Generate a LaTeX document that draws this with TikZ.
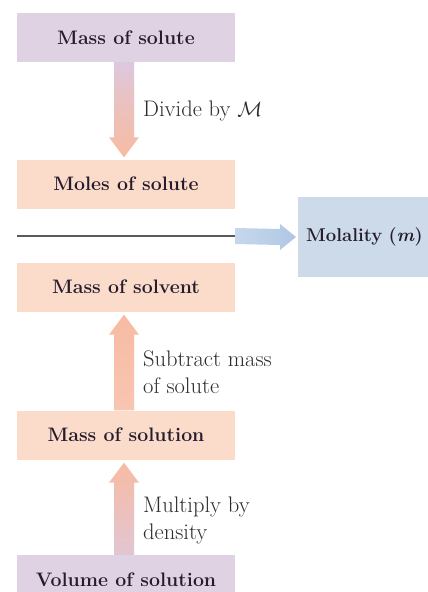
\documentclass[tikz,border=0pt]{standalone}
\usepackage{fontspec}
\usetikzlibrary{calc}
\definecolor{boxpurple}{HTML}{DFD2E3}
\definecolor{boxsalmon}{HTML}{FBDCCB}
\definecolor{boxblue}{HTML}{CCDAEA}
\definecolor{arrpurple}{HTML}{DCC8DE}
\definecolor{arrsalmon}{HTML}{F7BBA3}
\definecolor{arrblue}{HTML}{AFC7E4}
\definecolor{txt}{HTML}{251C2C}
\definecolor{labtxt}{HTML}{2E2A30}
\definecolor{rulegray}{HTML}{5A5A5A}
\begin{document}
\begin{tikzpicture}[x=1pt,y=-1pt,
  box/.style={minimum width=218pt, minimum height=49pt, inner sep=0pt, text=txt,
    font=\fontsize{19.5}{22}\selectfont\bfseries},
  bluebox/.style={anchor=west, fill=boxblue, minimum height=80pt, minimum width=140pt,
    inner xsep=8pt, inner ysep=0pt, text=txt, align=left, text width=124pt,
    font=\fontsize{18.5}{22}\selectfont\bfseries},
  lab/.style={anchor=north west, align=left, inner sep=0pt, text=labtxt,
    font=\fontsize{22.5}{26.5}\selectfont}]
\useasboundingbox (0,0) rectangle (428,592);
\clip (0,0) rectangle (428,592);
\fill[white] (0,0) rectangle (428,592);

% boxes
\node[box, fill=boxpurple] (msolute) at (126,37.5) {Mass of solute};
\node[box, fill=boxsalmon] (moles) at (126,184) {Moles of solute};
\node[box, fill=boxsalmon] (msolvent) at (126,287) {Mass of solvent};
\node[box, fill=boxsalmon] (msolution) at (126,435) {Mass of solution};
\node[box, fill=boxpurple, minimum height=50pt] (volume) at (126,580) {Volume of solution};
\node[bluebox] (molality) at (298,237) {Molality (\textit{m})};

% arrow 1: down
\shade[top color=arrpurple, bottom color=arrsalmon, middle color=arrsalmon!60!arrpurple]
  ($(msolute.south)+(-12,0)$) -- ($(msolute.south)+(8,0)$) -- ($(moles.north)+(8,-22)$)
  -- ($(moles.north)+(13,-22)$) -- ($(moles.north)+(-2,-2)$) -- ($(moles.north)+(-17,-22)$)
  -- ($(moles.north)+(-12,-22)$) -- cycle;

% arrow 2: up
\shade[top color=arrsalmon, bottom color=arrsalmon!85!white]
  ($(msolution.north)+(-12,0)$) -- ($(msolution.north)+(8,0)$) -- ($(msolvent.south)+(8,23)$)
  -- ($(msolvent.south)+(13,23)$) -- ($(msolvent.south)+(-2,3)$) -- ($(msolvent.south)+(-17,23)$)
  -- ($(msolvent.south)+(-12,23)$) -- cycle;

% arrow 3: up
\shade[top color=arrsalmon, bottom color=arrpurple!80!arrsalmon]
  ($(volume.north)+(-12,0)$) -- ($(volume.north)+(8,0)$) -- ($(msolution.south)+(8,23)$)
  -- ($(msolution.south)+(13,23)$) -- ($(msolution.south)+(-2,3)$) -- ($(msolution.south)+(-17,23)$)
  -- ($(msolution.south)+(-12,23)$) -- cycle;

% rule and blue arrow
\coordinate (lstart) at (17,236);
\coordinate (lend) at (235,236);
\draw[rulegray, line width=1.2pt] (lstart) -- (lend);
\shade[left color=arrblue!70!white, right color=arrblue]
  ($(lend)+(0,-8)$) -- ($(molality.west)+(-18,-8)$) -- ($(molality.west)+(-18,-13)$)
  -- ($(molality.west)+(-2,0)$) -- ($(molality.west)+(-18,13)$) -- ($(molality.west)+(-18,8)$)
  -- ($(lend)+(0,8)$) -- cycle;

% labels
\node[lab] (l1) at (143,101) {Divide by $\mathcal{M}$};
\node[lab] (l2) at (143,351) {Subtract mass\\of solute};
\node[lab] (l3) at (143,497) {Multiply by\\density};
\end{tikzpicture}
\end{document}
